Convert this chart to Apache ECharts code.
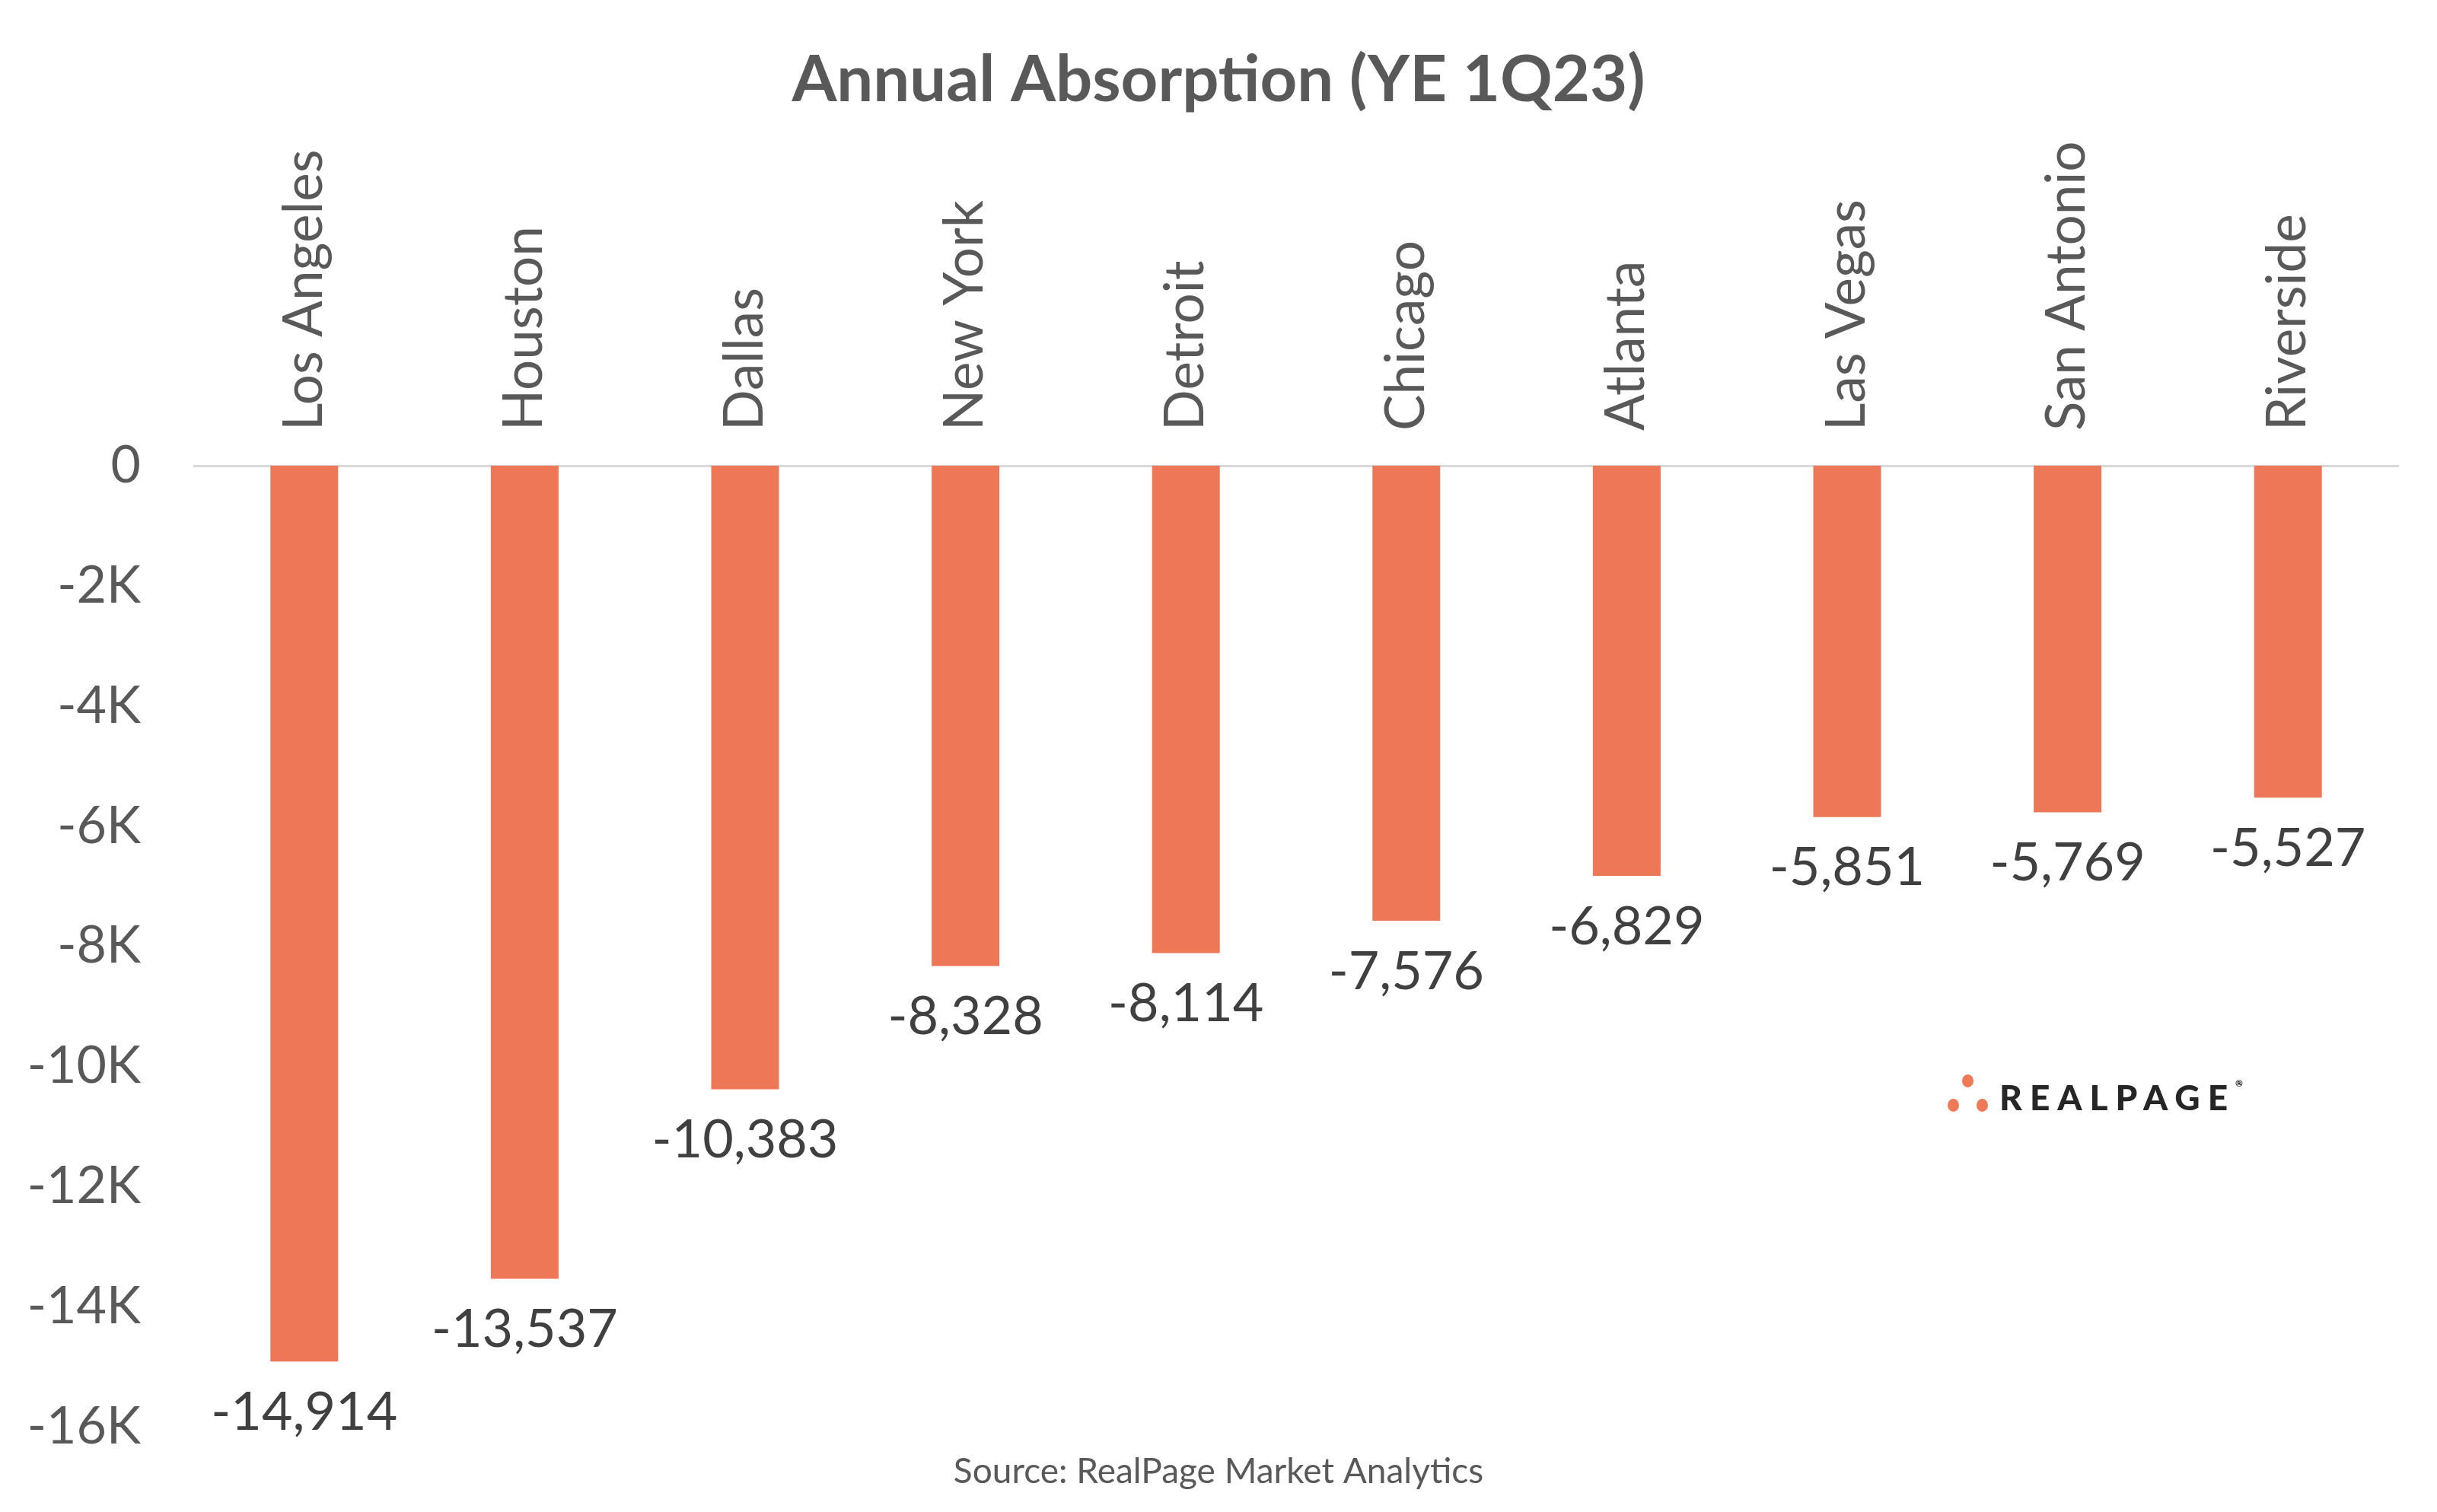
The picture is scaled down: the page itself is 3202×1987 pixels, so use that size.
<!DOCTYPE html>
<html>
<head>
<meta charset="utf-8">
<script src="https://cdn.jsdelivr.net/npm/echarts@6/dist/echarts.min.js"></script>
<style>
html,body{margin:0;padding:0;background:#fff;}
#chart{width:3202px;height:1987px;position:relative;}
#logo{position:absolute;top:1414px;font-family:Lato,sans-serif;font-weight:900;font-size:46px;letter-spacing:10px;color:#262626;}
#logo sup{font-size:12px;letter-spacing:0;vertical-align:top;position:relative;top:2px;}
.dot{position:absolute;width:15px;height:17px;border-radius:50%;background:#EE7957;}
</style>
</head>
<body>
<div id="chart"></div>
<div class="dot" style="left:2578px;top:1412px;"></div>
<div class="dot" style="left:2559px;top:1444px;"></div>
<div class="dot" style="left:2597px;top:1444px;"></div>
<div id="logo" style="left:2627px;">REALPAGE<sup>®</sup></div>
<script>
const categories = ['Los Angeles','Houston','Dallas','New York','Detroit','Chicago','Atlanta','Las Vegas','San Antonio','Riverside'];
const absorption = [-14914,-13537,-10383,-8328,-8114,-7576,-6829,-5851,-5769,-5527];
const titleText = 'Annual Absorption (YE 1Q23)';
const sourceText = 'Source: RealPage Market Analytics';

const chart = echarts.init(document.getElementById('chart'), null, {renderer:'canvas'});
chart.setOption({
  backgroundColor:'#ffffff',
  animation:false,
  title:{
    text:titleText,
    left:'center',
    top:58,
    textStyle:{fontFamily:'Lato',fontWeight:'bold',fontSize:85,color:'#595959'}
  },
  graphic:[{
    type:'text',
    left:'center',
    top:1911,
    style:{text:sourceText,font:'46px Lato',fill:'#595959'}
  }],
  grid:{left:255,right:51,top:612,bottom:112,containLabel:false},
  xAxis:{
    type:'category',
    position:'top',
    data:categories,
    axisLine:{show:true,lineStyle:{color:'#d9d9d9',width:3}},
    axisTick:{show:false},
    axisLabel:{rotate:90,margin:46,fontFamily:'Lato',fontSize:71,color:'#595959'}
  },
  yAxis:{
    type:'value',
    min:-16000,max:0,interval:2000,
    axisLine:{show:false},
    axisTick:{show:false},
    splitLine:{show:false},
    axisLabel:{
      margin:70,fontFamily:'Lato',fontSize:68,color:'#595959',
      formatter:function(v){return v===0?'0':(v/1000)+'K';}
    }
  },
  series:[{
    type:'bar',
    data:absorption,
    barWidth:89,
    itemStyle:{color:'#ED7756'},
    label:{
      show:true,position:'bottom',distance:32,
      fontFamily:'Lato',fontSize:70,color:'#404040',
      formatter:function(p){return p.value.toLocaleString('en-US');}
    }
  }]
});
</script>
</body>
</html>
